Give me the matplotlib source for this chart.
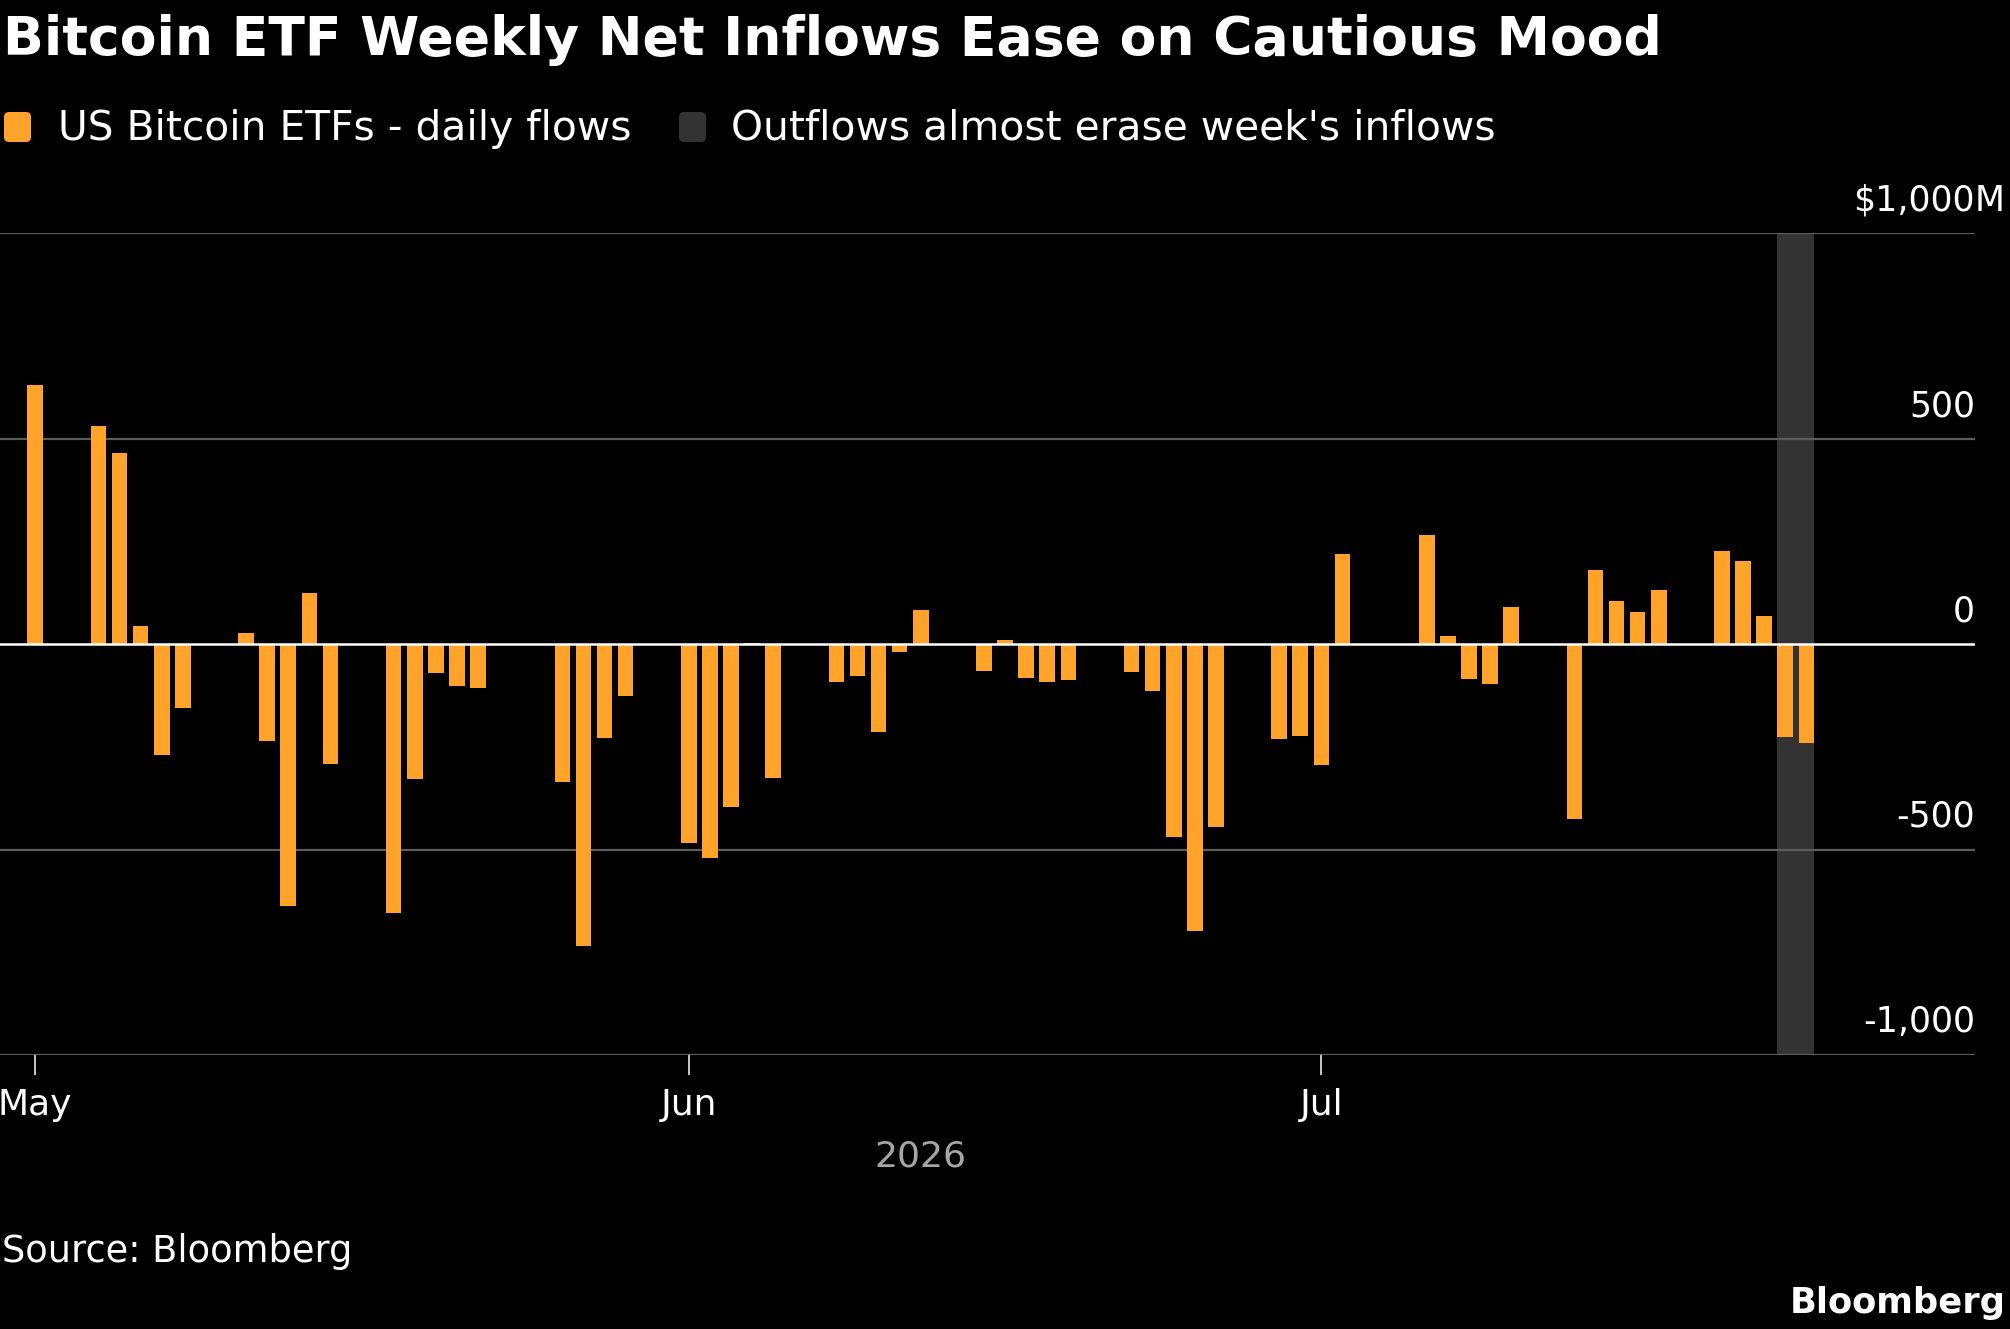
import matplotlib
matplotlib.use("Agg")
import matplotlib.pyplot as plt
import matplotlib.dates as mdates
import matplotlib.transforms as mtransforms
from matplotlib.patches import FancyBboxPatch
import numpy as np
import pandas as pd

# daily flows, $M
dates = [
    "2026-05-01",
    "2026-05-04", "2026-05-05", "2026-05-06", "2026-05-07", "2026-05-08",
    "2026-05-11", "2026-05-12", "2026-05-13", "2026-05-14", "2026-05-15",
    "2026-05-18", "2026-05-19", "2026-05-20", "2026-05-21", "2026-05-22",
    "2026-05-26", "2026-05-27", "2026-05-28", "2026-05-29",
    "2026-06-01", "2026-06-02", "2026-06-03", "2026-06-04", "2026-06-05",
    "2026-06-08", "2026-06-09", "2026-06-10", "2026-06-11", "2026-06-12",
    "2026-06-15", "2026-06-16", "2026-06-17", "2026-06-18", "2026-06-19",
    "2026-06-22", "2026-06-23", "2026-06-24", "2026-06-25", "2026-06-26",
    "2026-06-29", "2026-06-30", "2026-07-01", "2026-07-02",
    "2026-07-06", "2026-07-07", "2026-07-08", "2026-07-09", "2026-07-10",
    "2026-07-13", "2026-07-14", "2026-07-15", "2026-07-16", "2026-07-17",
    "2026-07-20", "2026-07-21", "2026-07-22", "2026-07-23", "2026-07-24",
]
flows = [
    630,
    532, 466, 45, -270, -156,
    26, -235, -637, 125, -292,
    -654, -329, -71, -102, -106,
    -335, -735, -229, -126,
    -485, -521, -397, 3, -326,
    -91, -77, -214, -20, 84,
    -65, 9, -83, -91, -87,
    -68, -114, -470, -698, -446,
    -232, -224, -294, 220,
    265, 21, -85, -96, 90,
    -425, 180, 106, 78, 132,
    226, 202, 68, -226, -241,
]
highlight = ["2026-07-23", "2026-07-24"]

month_ticks = ["2026-05-01", "2026-06-01", "2026-07-01"]
month_labels = ["May", "Jun", "Jul"]
y_ticks = [-1000, -500, 0, 500, 1000]
y_labels = ["-1,000", "-500", "0", "500", "$1,000"]
y_unit = "M"

title = "Bitcoin ETF Weekly Net Inflows Ease on Cautious Mood"
legend_labels = ["US Bitcoin ETFs - daily flows", "Outflows almost erase week's inflows"]
ORANGE = "#ffa32b"
SHADE = "#333333"
GRID = "#5c5c5c"

W, H = 2010, 1329
fig = plt.figure(figsize=(W / 100, H / 100), dpi=100, facecolor="black")
plt.rcParams["font.family"] = ["DejaVu Sans"]

ax = fig.add_axes([0, 1 - 1055 / H, 1975 / W, (1055 - 233.3) / H])
ax.set_facecolor("black")

x = mdates.date2num(pd.to_datetime(dates))
ax.bar(x, flows, width=0.74, color=ORANGE, zorder=3, linewidth=0)

hx = mdates.date2num(pd.to_datetime(highlight))
ax.axvspan(hx[0] - 0.37, hx[-1] + 0.37, color=SHADE, lw=0, zorder=0)

for v in y_ticks:
    if v == 0:
        ax.axhline(v, color="white", lw=1.8, zorder=4)
    else:
        ax.axhline(v, color=GRID, lw=1.6, zorder=1)

ax.set_ylim(-1000, 1000)
ax.set_xlim(x[0] - 1.67, mdates.date2num(pd.Timestamp("2026-08-01")))
for s in ax.spines.values():
    s.set_visible(False)
ax.set_yticks([])
ax.set_xticks(mdates.date2num(pd.to_datetime(month_ticks)))
ax.set_xticklabels(month_labels)
ax.tick_params(axis="x", colors="white", length=14.4, width=1.1, pad=9, labelsize=26)

for v, lab in zip(y_ticks, y_labels):
    ax.annotate(lab, xy=(1, v), xycoords=("axes fraction", "data"),
                xytext=(0, 16.3), textcoords="offset points",
                ha="right", va="baseline", color="white", fontsize=25)
ax.annotate(y_unit, xy=(1, y_ticks[-1]), xycoords=("axes fraction", "data"),
            xytext=(0, 16.3), textcoords="offset points",
            ha="left", va="baseline", color="white", fontsize=25)

# year label centred under the data range
trans = mtransforms.blended_transform_factory(ax.transData, ax.transAxes)
ax.text((x[0] + x[-1]) / 2, -0.124, "2026", transform=trans,
        ha="center", va="center", color="#a6a6a6", fontsize=26)

fig.text(3 / W, 1 - 55 / H, title, fontsize=38.6, fontweight="bold",
         color="white", ha="left", va="baseline")

# legend
for x0, col, tx, lab in [(4, ORANGE, 58, legend_labels[0]), (679, SHADE, 731, legend_labels[1])]:
    box = FancyBboxPatch((x0 / 100, (H - 142) / 100), 0.27, 0.30,
                         boxstyle="round,pad=0,rounding_size=0.05",
                         transform=fig.dpi_scale_trans, color=col, lw=0)
    fig.add_artist(box)
    fig.text(tx / W, 1 - 140 / H, lab, fontsize=29.3, color="white",
             ha="left", va="baseline")

fig.text(2 / W, 1 - 1262 / H, "Source: Bloomberg", fontsize=26.5, color="white",
         ha="left", va="baseline")
fig.text(2006 / W, 1 - 1313 / H, "Bloomberg", fontsize=25.4, fontweight="bold",
         color="white", ha="right", va="baseline")

fig.savefig("out.png", dpi=100, facecolor="black")
